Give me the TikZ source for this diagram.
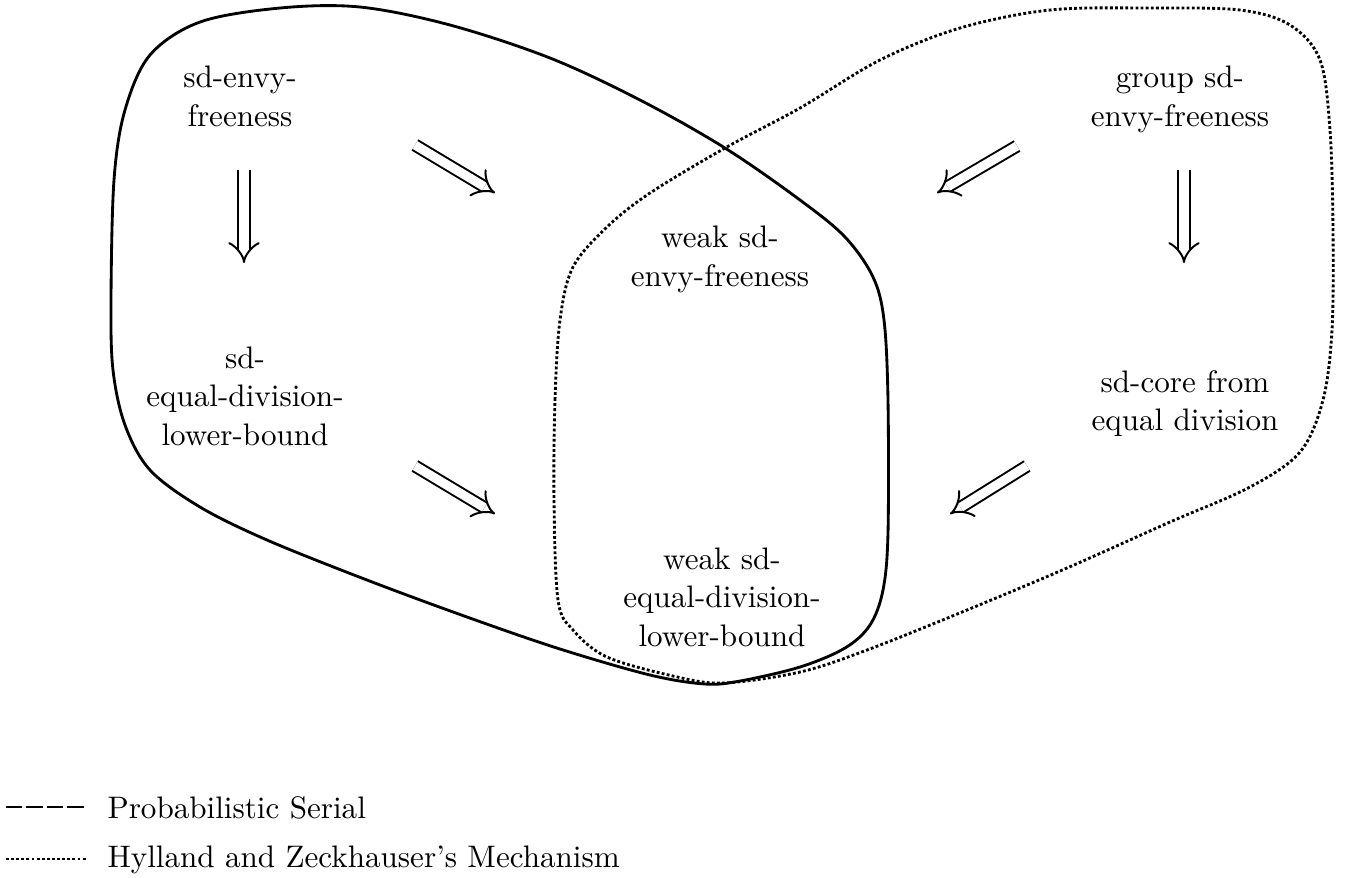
\documentclass[tikz,border=0pt]{standalone}
\usetikzlibrary{arrows.meta}
\begin{document}
\begin{tikzpicture}[x=0.352pt,y=-0.352pt,
  lbl/.style={align=center, font=\fontsize{10.95pt}{13.6pt}\selectfont, inner sep=0pt},
  imp/.style={double, double distance=3.2pt, line width=0.7pt, -{Implies}},
  psc/.style={line width=1pt, line join=round},
  hzc/.style={line width=1pt, dash pattern=on 1pt off 0.8pt},
  psleg/.style={line width=1pt, dash pattern=on 5.7pt off 1.5pt},
]
\useasboundingbox (0,0) rectangle (1347,877);

% property nodes
\node[lbl] (A) at (240,96.5) {sd-envy-\\freeness};
\node[lbl] (B) at (245,396) {sd-\\equal-division-\\lower-bound};
\node[lbl] (C) at (720,259.5) {weak sd-\\envy-freeness};
\node[lbl] (D) at (722,597) {weak sd-\\equal-division-\\lower-bound};
\node[lbl] (E) at (1180,99.5) {group sd-\\envy-freeness};
\node[lbl] (F) at (1185,403.5) {sd-core from\\equal division};

% arrow end points
\coordinate (AB1) at (244,170); \coordinate (AB2) at (244,263);
\coordinate (EF1) at (1184,170); \coordinate (EF2) at (1184,263);
\coordinate (AC1) at (415,145); \coordinate (AC2) at (495,193);
\coordinate (EC1) at (1017,146); \coordinate (EC2) at (937,193);
\coordinate (BD1) at (415,466); \coordinate (BD2) at (495,514);
\coordinate (FD1) at (1027,466); \coordinate (FD2) at (950,514);

\draw[imp] (AB1) -- (AB2);
\draw[imp] (EF1) -- (EF2);
\draw[imp] (AC1) -- (AC2);
\draw[imp] (EC1) -- (EC2);
\draw[imp] (BD1) -- (BD2);
\draw[imp] (FD1) -- (FD2);

% Probabilistic Serial region
\draw[psc] plot[smooth cycle, tension=0.55] coordinates {
 (111,300) (114,180) (125,110) (150,55) (200,22) (280,8) (360,7) (450,25)
 (550,58) (640,100) (725,148) (800,200) (845,237) (873,277) (884,320)
 (888,400) (888,533) (883,590) (870,625) (845,648) (800,667) (740,681)
 (705,684) (650,675) (560,649) (467,617) (367,580) (267,540) (200,507)
 (150,470) (125,425) (113,370)};

% Hylland and Zeckhauser region
\draw[hzc] plot[smooth cycle, tension=0.55] coordinates {
 (554,500) (555,400) (560,320) (573,267) (607,227) (650,193) (725,148)
 (800,108) (880,60) (960,28) (1050,10) (1150,8) (1240,10) (1290,25)
 (1320,60) (1330,130) (1333,230) (1332,330) (1323,400) (1300,452)
 (1250,487) (1170,522) (1067,568) (967,610) (867,650)
 (800,672) (723,683) (673,676) (607,657) (573,630) (558,600)};

% legend
\node[lbl, anchor=base west] (ps) at (107,818) {Probabilistic Serial};
\node[lbl, anchor=base west] (hz) at (107,867) {Hylland and Zeckhauser's Mechanism};
\coordinate (L1a) at (6,807); \coordinate (L1b) at (87,807);
\coordinate (L2a) at (6,859); \coordinate (L2b) at (87,859);
\draw[psleg] (L1a) -- (L1b);
\draw[hzc] (L2a) -- (L2b);
\end{tikzpicture}
\end{document}
